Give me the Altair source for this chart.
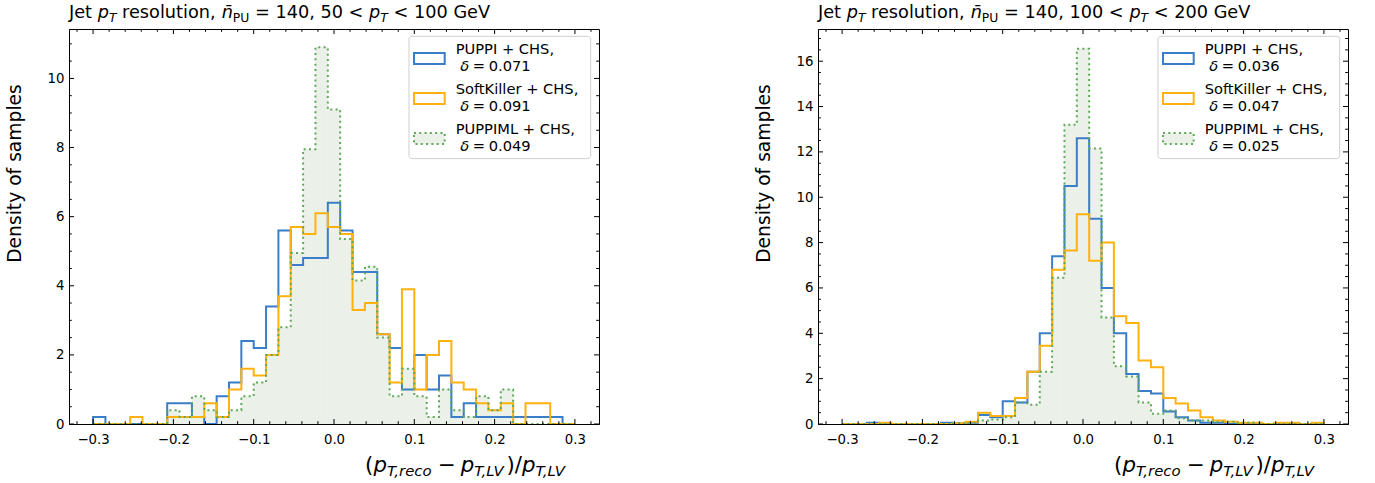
import altair as alt
import numpy as np
import pandas as pd

# ---------------- data ----------------
EDGES = np.linspace(-0.3, 0.3, 40)          # 39 common bins
SERIES = ["PUPPI + CHS,", "SoftKiller + CHS,", "PUPPIML + CHS,"]
DELTA_L = ["0.071", "0.091", "0.049"]
DELTA_R = ["0.036", "0.047", "0.025"]
PT_L = ("50", "100")
PT_R = ("100", "200")

PUPPI_L = [0.2, 0, 0, 0, 0, 0, 0.6, 0.6, 0.2, 0, 0.8, 1.2, 2.4, 2.2, 3.4, 5.6, 4.6, 4.8, 4.8, 6.4,
           5.6, 4.4, 4.4, 2.6, 2.2, 1.0, 2.0, 1.0, 1.4, 0.2, 0.6, 0.2, 0.2, 0.2, 0.2, 0.2, 0.2, 0.2, 0]
SK_L = [0, 0, 0, 0.2, 0, 0, 0.2, 0.2, 0.2, 0.6, 0.2, 1.0, 1.6, 1.4, 2.0, 3.7, 5.7, 5.5, 6.1, 5.7,
        5.5, 3.3, 3.5, 2.6, 1.2, 3.9, 1.0, 2.0, 2.4, 1.2, 1.0, 0.6, 0.4, 0.6, 0, 0.6, 0.6, 0, 0]
ML_L = [0, 0, 0, 0, 0, 0, 0.4, 0.2, 0.8, 0.4, 0.2, 0.4, 0.8, 1.2, 2.0, 2.8, 4.95, 7.95, 10.9, 9.1,
        5.35, 4.15, 4.55, 2.5, 0.8, 1.6, 0.8, 0.2, 1.0, 0.4, 0.2, 0.8, 0.4, 1.0, 0, 0, 0, 0, 0]

PUPPI_R = [0, 0, 0.06, 0, 0, 0, 0, 0, 0.06, 0.03, 0.06, 0.4, 0.3, 1.0, 0.95, 2.3, 4.0, 7.4, 10.5, 12.6,
           9.05, 6.0, 4.0, 2.2, 1.45, 1.35, 0.55, 0.3, 0.15, 0.05, 0.05, 0, 0, 0, 0, 0, 0, 0, 0]
SK_R = [0, 0, 0, 0.06, 0, 0, 0, 0, 0, 0.03, 0.1, 0.5, 0.35, 0.35, 1.15, 2.3, 3.45, 6.8, 7.65, 9.25,
        7.2, 8.0, 4.75, 4.45, 2.8, 2.5, 1.15, 0.9, 0.6, 0.3, 0.15, 0.1, 0.05, 0.05, 0, 0.05, 0.05, 0, 0.05]
ML_R = [0, 0, 0, 0, 0, 0, 0, 0, 0, 0.03, 0.05, 0.15, 0.2, 0.3, 0.95, 0.85, 2.3, 6.45, 13.2, 16.55,
        12.15, 4.7, 2.55, 2.1, 0.95, 0.45, 0.6, 0.25, 0.15, 0.15, 0.1, 0.1, 0.05, 0.05, 0, 0, 0, 0, 0]

X_TICKS = [-0.3, -0.2, -0.1, 0.0, 0.1, 0.2, 0.3]
Y_TICKS_L = [0, 2, 4, 6, 8, 10]
Y_TICKS_R = [0, 2, 4, 6, 8, 10, 12, 14, 16]

# ---------------- style ----------------
FONT = "DejaVu Sans"
BLUE = "#3a7dc8"
ORANGE = "#ffb20f"
GREEN = "#5fa85a"
FILL = "#ebf1e8"
W, H = 530, 395
XDOM = [-0.33, 0.33]

CW = {' ': .318, '(': .390, ')': .390, ',': .318, '.': .318, '/': .337, '<': .838, '=': .838,
      '\u2212': .838, '+': .838, 'C': .698, 'G': .776, 'H': .752, 'I': .295, 'J': .295, 'K': .656,
      'L': .557, 'M': .863, 'P': .603, 'S': .635, 'T': .611, 'U': .732, 'V': .684, 'a': .613,
      'c': .550, 'e': .615, 'f': .352, 'i': .278, 'l': .278, 'n': .634, 'o': .612, 'p': .635,
      'r': .411, 's': .521, 't': .392, 'u': .634, '\u0304': 0.0, '\u03b4': .612}
for d in "0123456789":
    CW[d] = .636

ONE = pd.DataFrame({"a": [0]})


def tw(s):
    return sum(CW.get(c, 0.6) for c in s)


def rich(parts, fs, space=None):
    sp = CW[' '] if space is None else space
    items, x = [], 0.0
    for text, italic, sub in parts:
        size = fs * 0.7 if sub else fs
        dy = 0.2 * fs if sub else 0.0
        lead = len(text) - len(text.lstrip(' '))
        x += lead * sp * size
        core = text.strip(' ')
        if core:
            items.append((core, x, dy, size, italic))
            x += tw(core) * size
            x += (len(text) - len(text.rstrip(' '))) * sp * size
    return items, x


def text_layers(items, x0, y0):
    out = []
    for core, x, dy, size, it in items:
        out.append(alt.Chart(ONE).mark_text(
            align='left', baseline='alphabetic', font=FONT, fontSize=round(size, 2),
            fontStyle='italic' if it else 'normal', color='black'
        ).encode(x=alt.value(round(x0 + x, 2)), y=alt.value(round(y0 + dy, 2)), text=alt.value(core)))
    return out


def step_df(vals):
    xs, ys = [EDGES[0]], [0.0]
    for k, v in enumerate(vals):
        xs += [EDGES[k], EDGES[k + 1]]
        ys += [v, v]
    xs.append(EDGES[-1]); ys.append(0.0)
    return pd.DataFrame({"i": range(len(xs)), "x": xs, "y": ys})


def bins_df(vals):
    return pd.DataFrame({"x": EDGES[:-1], "x2": EDGES[1:], "y": vals, "y0": 0.0})


def panel(puppi, sk, ml, deltas, pt, ymax, yticks):
    xscale = alt.Scale(domain=XDOM, nice=False, zero=False)
    yscale = alt.Scale(domain=[0, ymax], nice=False, zero=False)
    xaxis = alt.Axis(values=X_TICKS, format='.1f', ticks=False, tickSize=0, grid=False,
                     labelFont=FONT, labelFontSize=13.3, labelColor='black', labelPadding=8,
                     domainColor='black', domainWidth=1, zindex=1, title=None)
    yaxis = alt.Axis(values=yticks, format='d', ticks=False, tickSize=0, grid=False,
                     labelFont=FONT, labelFontSize=13.3, labelColor='black', labelPadding=5,
                     domainColor='black', domainWidth=1, zindex=1,
                     title="Density of samples", titleFont=FONT, titleFontSize=18.7,
                     titleFontWeight='normal', titleColor='black', titleAngle=270,
                     titleAlign='center', titleBaseline='alphabetic', titleX=-49, titleY=144)
    X = alt.X('x:Q', scale=xscale, axis=xaxis)
    Y = alt.Y('y:Q', scale=yscale, axis=yaxis, stack=None)

    layers = []
    # filled PUPPIML histogram
    layers.append(alt.Chart(bins_df(ml)).transform_filter("datum.y > 0")
                  .mark_rect(color=FILL, stroke=FILL, strokeWidth=0.6)
                  .encode(x=X, x2='x2:Q', y=Y, y2='y0:Q'))
    for vals, col in ((puppi, BLUE), (sk, ORANGE)):
        layers.append(alt.Chart(step_df(vals)).mark_line(color=col, strokeWidth=2, strokeJoin='miter')
                      .encode(x=X, y=Y, order='i:Q'))
    layers.append(alt.Chart(step_df(ml)).mark_line(color=GREEN, strokeWidth=2, strokeDash=[2, 3.3],
                                                    strokeCap='butt', strokeJoin='miter')
                  .encode(x=X, y=Y, order='i:Q'))

    # inward ticks on all four sides
    xmin = [round(-0.32 + 0.02 * i, 2) for i in range(33)]
    xmin = [v for v in xmin if abs(v * 10 - round(v * 10)) > 1e-6]
    ymin = [0.5 * i for i in range(int(ymax * 2) + 1) if (0.5 * i) % 2 != 0]
    tx = lambda vals: pd.DataFrame({"x": vals})
    ty = lambda vals: pd.DataFrame({"y": vals})
    for vals, ln in ((X_TICKS, 5), (xmin, 2.8)):
        layers.append(alt.Chart(tx(vals)).mark_rule(color='black', strokeWidth=1)
                      .encode(x=X, y=alt.value(H), y2=alt.value(H - ln)))
        layers.append(alt.Chart(tx(vals)).mark_rule(color='black', strokeWidth=1)
                      .encode(x=X, y=alt.value(0), y2=alt.value(ln)))
    for vals, ln in ((yticks, 5), (ymin, 2.8)):
        layers.append(alt.Chart(ty(vals)).mark_rule(color='black', strokeWidth=1)
                      .encode(y=Y, x=alt.value(0), x2=alt.value(ln)))
        layers.append(alt.Chart(ty(vals)).mark_rule(color='black', strokeWidth=1)
                      .encode(y=Y, x=alt.value(W - ln), x2=alt.value(W)))

    # legend
    bx1, bx2, by1, by2 = W - 8.3 - 181.7, W - 8.3, 7.3, 129.6
    layers.append(alt.Chart(ONE).mark_rect(fill='white', fillOpacity=0.8, stroke='#cfcfcf',
                                           strokeWidth=1, cornerRadius=3)
                  .encode(x=alt.value(bx1), x2=alt.value(bx2), y=alt.value(by1), y2=alt.value(by2)))
    cols = [BLUE, ORANGE, GREEN]
    for i in range(3):
        cy = 29.5 + 40 * i
        mk = dict(stroke=cols[i], strokeWidth=2, strokeJoin='miter')
        if i == 2:
            mk.update(fill=FILL, strokeDash=[2, 3.3])
        else:
            mk.update(fill='white', fillOpacity=0)
        layers.append(alt.Chart(ONE).mark_rect(**mk).encode(
            x=alt.value(bx1 + 5), x2=alt.value(bx1 + 35.7), y=alt.value(cy - 5.5), y2=alt.value(cy + 5.5)))
        lx, b1 = bx1 + 46.7, cy - 4.3
        layers += text_layers([(SERIES[i], 0, 0, 14.67, False)], lx, b1)
        layers += text_layers([("\u03b4", 4.5, 0, 14.67, True), ("=", 17.0, 0, 14.67, False),
                               (deltas[i], 33.0, 0, 14.67, False)], lx, b1 + 16.7)

    # title
    tparts = [("Jet ", False, False), ("p", True, False), ("T", True, True),
              (" resolution, ", False, False), ("n\u0304", True, False), ("PU", False, True),
              (" = 140, " + pt[0] + " < ", False, False), ("p", True, False), ("T", True, True),
              (" < " + pt[1] + " GeV", False, False)]
    items, _ = rich(tparts, 17.7)
    layers += text_layers(items, 0, -10.8)

    # x label (math style, medium spaces around the minus)
    xparts = [("(", False, False), ("p", True, False), ("T,reco", True, True), (" \u2212 ", False, False),
              ("p", True, False), ("T,LV", True, True), (")/", False, False), ("p", True, False),
              ("T,LV", True, True)]
    items, wtot = rich(xparts, 21.3, space=0.22)
    layers += text_layers(items, 0.75 * W - wtot / 2, 443)

    return alt.layer(*layers).properties(width=W, height=H)


left = panel(PUPPI_L, SK_L, ML_L, DELTA_L, PT_L, 11.43, Y_TICKS_L)
right = panel(PUPPI_R, SK_R, ML_R, DELTA_R, PT_R, 17.42, Y_TICKS_R)

chart = alt.hconcat(left, right, spacing=153).properties(
    padding={"left": 4, "top": 3, "right": 5, "bottom": 5},
    background='white'
).configure_view(stroke='black', strokeWidth=1)

chart.save("out.html", embed_options={"renderer": "svg", "actions": False})
